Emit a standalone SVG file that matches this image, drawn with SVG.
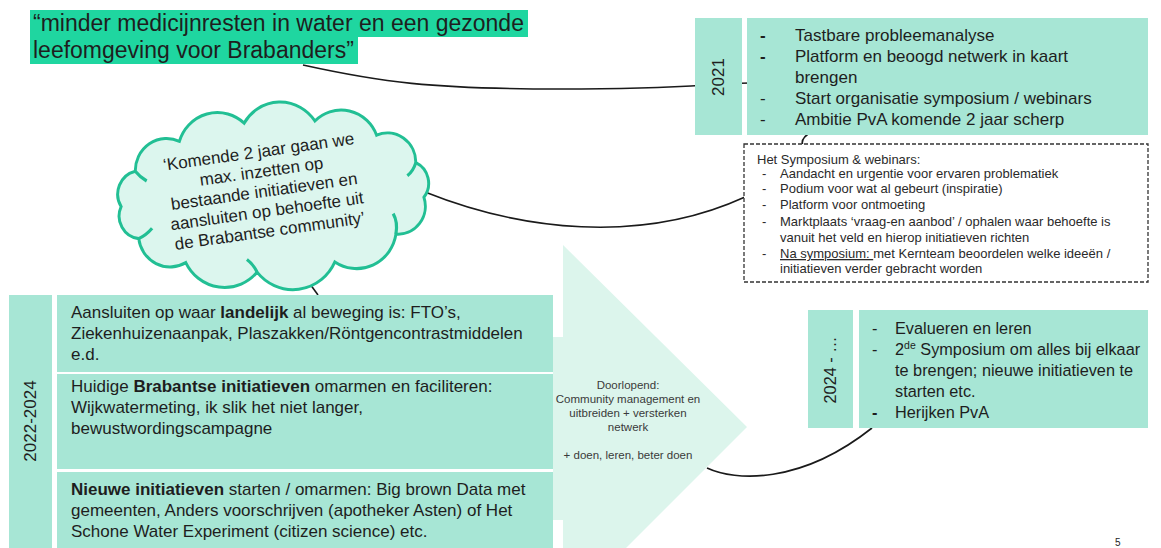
<svg xmlns="http://www.w3.org/2000/svg" width="1161" height="548" viewBox="0 0 1161 548">
<style>
text{font-family:"Liberation Sans",Arial,sans-serif;fill:#1e1e1e}
.t17{font-size:17px}
.t16{font-size:16.3px}
.t13{font-size:13px;fill:#2a2a2a}
.t11{font-size:11.5px;fill:#3a3a3a}
.tab{fill:#a7e6d5}
.box{fill:#a7e6d5}
.con{fill:none;stroke:#1a1a1a;stroke-width:1.6}
.cl{fill:none;stroke:#22bf94;stroke-width:3}
.b{font-weight:bold}
</style>
<rect width="1161" height="548" fill="#ffffff"/>

<g id="arrow">
<path d="M553,337 L563,337 L563,245 L747,427 L626,548 L563,548 L563,520 L553,520 Z" fill="#dcf5ec"/>
<text class="t11" text-anchor="middle" x="628" y="389">Doorlopend:</text>
<text class="t11" text-anchor="middle" x="628" y="403">Community management en</text>
<text class="t11" text-anchor="middle" x="628" y="417">uitbreiden + versterken</text>
<text class="t11" text-anchor="middle" x="628" y="431">netwerk</text>
<text class="t11" text-anchor="middle" x="628" y="459">+ doen, leren, beter doen</text>
</g>

<g id="connectors">
<path class="con" d="M303,65 C380,82 430,89 560,89 S700,84 750,83"/>
<path class="con" d="M425,192 C520,230 640,245 745,197"/>
<path class="con" d="M302,273 L318,295"/>
<path class="con" d="M707,468 C735,481 800,485 872,428"/>
<path class="con" d="M808,134 Q800,140 803,146"/>
</g>

<g id="title">
<rect x="30" y="10" width="498" height="27" fill="#1fd6a0"/>
<rect x="30" y="37" width="328" height="27" fill="#1fd6a0"/>
<text x="33" y="31" font-size="23">“minder medicijnresten in water en een gezonde</text>
<text x="33" y="58" font-size="23">leefomgeving voor Brabanders”</text>
</g>

<g id="box2021">
<rect class="tab" x="695" y="18" width="47" height="117"/>
<rect class="box" x="747" y="18" width="401" height="117"/>
<text class="t17" text-anchor="middle" transform="translate(724,77) rotate(-90)">2021</text>
<text class="t17 b" x="760" y="41">-</text>
<text class="t17 b" x="760" y="62">-</text>
<text class="t17" x="760" y="104">-</text>
<text class="t17" x="760" y="125">-</text>
<text class="t17" x="795" y="41">Tastbare probleemanalyse</text>
<text class="t17" x="795" y="62">Platform en beoogd netwerk in kaart</text>
<text class="t17" x="795" y="83">brengen</text>
<text class="t17" x="795" y="104">Start organisatie symposium / webinars</text>
<text class="t17" x="795" y="125">Ambitie PvA komende 2 jaar scherp</text>
</g>

<g id="symposium">
<rect x="744" y="144" width="404" height="138" fill="#ffffff" stroke="#333" stroke-width="1.3" stroke-dasharray="4 2"/>
<text class="t13" x="757" y="164">Het Symposium &amp; webinars:</text>
<text class="t13" x="762" y="178">-</text>
<text class="t13" x="762" y="193">-</text>
<text class="t13" x="762" y="209">-</text>
<text class="t13" x="762" y="226">-</text>
<text class="t13" x="762" y="258">-</text>
<text class="t13" x="780" y="178">Aandacht en urgentie voor ervaren problematiek</text>
<text class="t13" x="780" y="193">Podium voor wat al gebeurt (inspiratie)</text>
<text class="t13" x="780" y="209">Platform voor ontmoeting</text>
<text class="t13" x="780" y="226">Marktplaats ‘vraag-en aanbod’ / ophalen waar behoefte is</text>
<text class="t13" x="780" y="242">vanuit het veld en hierop initiatieven richten</text>
<text class="t13" x="780" y="258"><tspan text-decoration="underline">Na symposium: </tspan>met Kernteam beoordelen welke ideeën /</text>
<text class="t13" x="780" y="273">initiatieven verder gebracht worden</text>
</g>

<g id="cloud">
<g transform="translate(273,196) rotate(-4) scale(1.05,1.08) translate(-275,-198)">
<path d="M130,198 A22,22 0 0 1 145.8,166.2 A30,30 0 0 1 189.7,141.4 A38,38 0 0 1 252.4,128.8 A40,40 0 0 1 319.8,131.4 A36,36 0 0 1 377.5,148.5 A27,27 0 0 1 412.9,176.4 A21,21 0 0 1 418.3,208.9 A26,26 0 0 1 389.3,241.1 A38,38 0 0 1 329.4,262.9 A44,44 0 0 1 254.8,267.3 A41,41 0 0 1 187.7,253.9 A30,30 0 0 1 144.6,228.7 A21,21 0 0 1 130,198 Z" fill="#dcf6ee" stroke="#22bf94" stroke-width="2.8"/>
<path class="cl" d="M145.8,166.2 Q150,172 156,176"/>
<path class="cl" d="M412.9,176.4 Q410,184 404,188"/>
<path class="cl" d="M389.3,241.1 Q392,230 388,222"/>
<path class="cl" d="M144.6,228.7 Q152,226 158,220"/>
<path class="cl" d="M254.8,267.3 Q252,260 246,255"/>
</g>
<g transform="rotate(-8 264 190)">
<text class="t17" text-anchor="middle" x="264" y="157">‘Komende 2 jaar gaan we</text>
<text class="t17" text-anchor="middle" x="264" y="177">max. inzetten op</text>
<text class="t17" text-anchor="middle" x="264" y="197">bestaande initiatieven en</text>
<text class="t17" text-anchor="middle" x="264" y="217">aansluiten op behoefte uit</text>
<text class="t17" text-anchor="middle" x="264" y="237">de Brabantse community’</text>
</g>
</g>

<g id="block2022">
<rect class="tab" x="9" y="295" width="43" height="253"/>
<text class="t17" text-anchor="middle" transform="translate(36,421) rotate(-90)">2022-2024</text>
<rect class="box" x="57" y="295" width="496" height="77"/>
<rect class="box" x="57" y="374" width="496" height="95"/>
<rect class="box" x="57" y="472" width="496" height="76"/>
<text class="t17" x="71" y="318">Aansluiten op waar <tspan class="b">landelijk</tspan> al beweging is: FTO’s,</text>
<text class="t17" x="71" y="339" font-size="17.3">Ziekenhuizenaanpak, Plaszakken/Röntgencontrastmiddelen</text>
<text class="t17" x="71" y="360">e.d.</text>
<text class="t17" x="71" y="392">Huidige <tspan class="b">Brabantse initiatieven</tspan> omarmen en faciliteren:</text>
<text class="t17" x="71" y="413">Wijkwatermeting, ik slik het niet langer,</text>
<text class="t17" x="71" y="434">bewustwordingscampagne</text>
<text class="t17" x="71" y="495"><tspan class="b">Nieuwe initiatieven</tspan> starten / omarmen: Big brown Data met</text>
<text class="t17" x="71" y="516">gemeenten, Anders voorschrijven (apotheker Asten) of Het</text>
<text class="t17" x="71" y="537">Schone Water Experiment (citizen science) etc.</text>
</g>

<g id="box2024">
<rect class="tab" x="808" y="310" width="45" height="118"/>
<rect class="box" x="859" y="310" width="289" height="118"/>
<text class="t16" text-anchor="middle" transform="translate(836,370) rotate(-90)">2024 - …</text>
<text class="t16" x="872" y="334">-</text>
<text class="t16" x="872" y="355">-</text>
<text class="t16 b" x="872" y="418">-</text>
<text class="t16" x="895" y="334">Evalueren en leren</text>
<text class="t16" x="895" y="355">2<tspan font-size="10.5" dy="-6">de</tspan><tspan dy="6"> Symposium om alles bij elkaar</tspan></text>
<text class="t16" x="895" y="376">te brengen; nieuwe initiatieven te</text>
<text class="t16" x="895" y="397">starten etc.</text>
<text class="t16" x="895" y="418">Herijken PvA</text>
</g>

<text x="1115" y="546" font-size="10" fill="#777">5</text>
</svg>
